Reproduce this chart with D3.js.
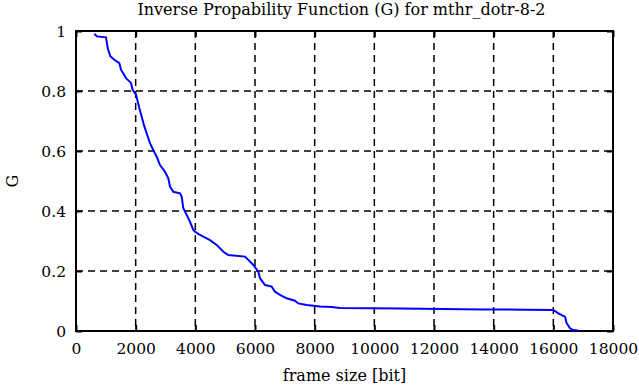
<!DOCTYPE html>
<html>
<head>
<meta charset="utf-8">
<script src="https://cdn.jsdelivr.net/npm/d3@7"></script>
<style>
  body { margin: 0; background: #fff; }
  svg { display: block; }
  text { font-family: "DejaVu Serif", serif; fill: #000; }
</style>
</head>
<body>
<div id="chart"></div>
<script>
// values
var frameSize = [614, 700, 1006, 1062, 1151, 1285, 1452, 1508, 1676, 1843, 1899, 2011, 2123, 2291,
  2480, 2592, 2704, 2816, 2983, 3095, 3151, 3263, 3486, 3542, 3598, 3710, 3821, 3933, 3989,
  4156, 4492, 4715, 4939, 5106, 5665, 5776, 5944, 6111, 6168, 6335, 6559, 6671, 6838, 7061,
  7341, 7452, 7732, 8179, 8570, 8849, 10860, 12258, 13654, 15051, 16000, 16168, 16280,
  16391, 16447, 16559, 16671, 16838];
var gValue = [0.991, 0.982, 0.979, 0.943, 0.916, 0.904, 0.893, 0.871, 0.843, 0.827, 0.804, 0.788, 0.743, 0.682,
  0.626, 0.603, 0.581, 0.553, 0.531, 0.509, 0.481, 0.464, 0.459, 0.448, 0.409, 0.387, 0.364, 0.337, 0.331,
  0.320, 0.303, 0.287, 0.264, 0.253, 0.248, 0.237, 0.220, 0.198, 0.176, 0.153, 0.148, 0.131, 0.120, 0.109,
  0.101, 0.092, 0.087, 0.082, 0.080, 0.077, 0.075, 0.073, 0.072, 0.071, 0.070, 0.059, 0.053,
  0.048, 0.026, 0.009, 0.003, 0.002];
var xTicks = [0, 2000, 4000, 6000, 8000, 10000, 12000, 14000, 16000, 18000];
var yTicks = [0, 0.2, 0.4, 0.6, 0.8, 1];
var title = "Inverse Propability Function (G) for mthr_dotr-8-2";

var width = 639, height = 387;
var margin = {top: 31, right: 26, bottom: 56, left: 76};
var iw = width - margin.left - margin.right,
    ih = height - margin.top - margin.bottom;

var svg = d3.select("#chart").append("svg")
    .attr("width", width)
    .attr("height", height);

var x = d3.scaleLinear().domain([0, 18000]).range([0, iw]);
var y = d3.scaleLinear().domain([0, 1]).range([ih, 0]);

var g = svg.append("g")
    .attr("transform", "translate(" + margin.left + "," + margin.top + ")");

// grid
g.selectAll(".vgrid")
    .data(xTicks.slice(1, -1))
    .enter().append("line")
    .attr("x1", d => x(d)).attr("x2", d => x(d))
    .attr("y1", 0).attr("y2", ih)
    .attr("stroke", "#000").attr("stroke-width", 1.5)
    .attr("stroke-dasharray", "7,5");
g.selectAll(".hgrid")
    .data(yTicks.slice(1, -1))
    .enter().append("line")
    .attr("x1", 0).attr("x2", iw)
    .attr("y1", d => y(d)).attr("y2", d => y(d))
    .attr("stroke", "#000").attr("stroke-width", 1.5)
    .attr("stroke-dasharray", "7,5");

// axes with inward ticks (mirror on top / right)
var xAxis = g.append("g")
    .attr("transform", "translate(0," + ih + ")")
    .call(d3.axisBottom(x).tickValues(xTicks).tickSize(-6).tickPadding(12).tickFormat(d3.format("d")));
var xTop = g.append("g")
    .call(d3.axisTop(x).tickValues(xTicks).tickSize(-6).tickFormat(""));
var yAxis = g.append("g")
    .call(d3.axisLeft(y).tickValues(yTicks).tickSize(-6).tickPadding(10).tickFormat(d => d));
var yRight = g.append("g")
    .attr("transform", "translate(" + iw + ",0)")
    .call(d3.axisRight(y).tickValues(yTicks).tickSize(-6).tickFormat(""));

[xAxis, xTop, yAxis, yRight].forEach(function(a) {
  a.select(".domain").remove();
  a.selectAll(".tick line").attr("stroke", "#000").attr("stroke-width", 2);
  a.selectAll("text").style("font-size", "15.5px").style("font-family", "DejaVu Serif, serif");
});
yAxis.selectAll("text").attr("dy", "0.35em");

// frame
g.append("rect")
    .attr("width", iw).attr("height", ih)
    .attr("fill", "none").attr("stroke", "#000").attr("stroke-width", 2);

// curve
var line = d3.line()
    .x((d, i) => x(frameSize[i]))
    .y(d => y(d));
g.append("path")
    .datum(gValue)
    .attr("d", line)
    .attr("fill", "none")
    .attr("stroke", "#0000ff")
    .attr("stroke-width", 2);

// labels
svg.append("text")
    .attr("x", margin.left + iw / 2 - 3).attr("y", 15)
    .attr("text-anchor", "middle")
    .style("font-size", "16px")
    .text(title);
svg.append("text")
    .attr("x", margin.left + iw / 2).attr("y", 381)
    .attr("text-anchor", "middle")
    .style("font-size", "16px")
    .text("frame size [bit]");
svg.append("text")
    .attr("transform", "translate(18," + (margin.top + ih / 2) + ")rotate(-90)")
    .attr("text-anchor", "middle")
    .style("font-size", "16px")
    .text("G");
</script>
</body>
</html>
